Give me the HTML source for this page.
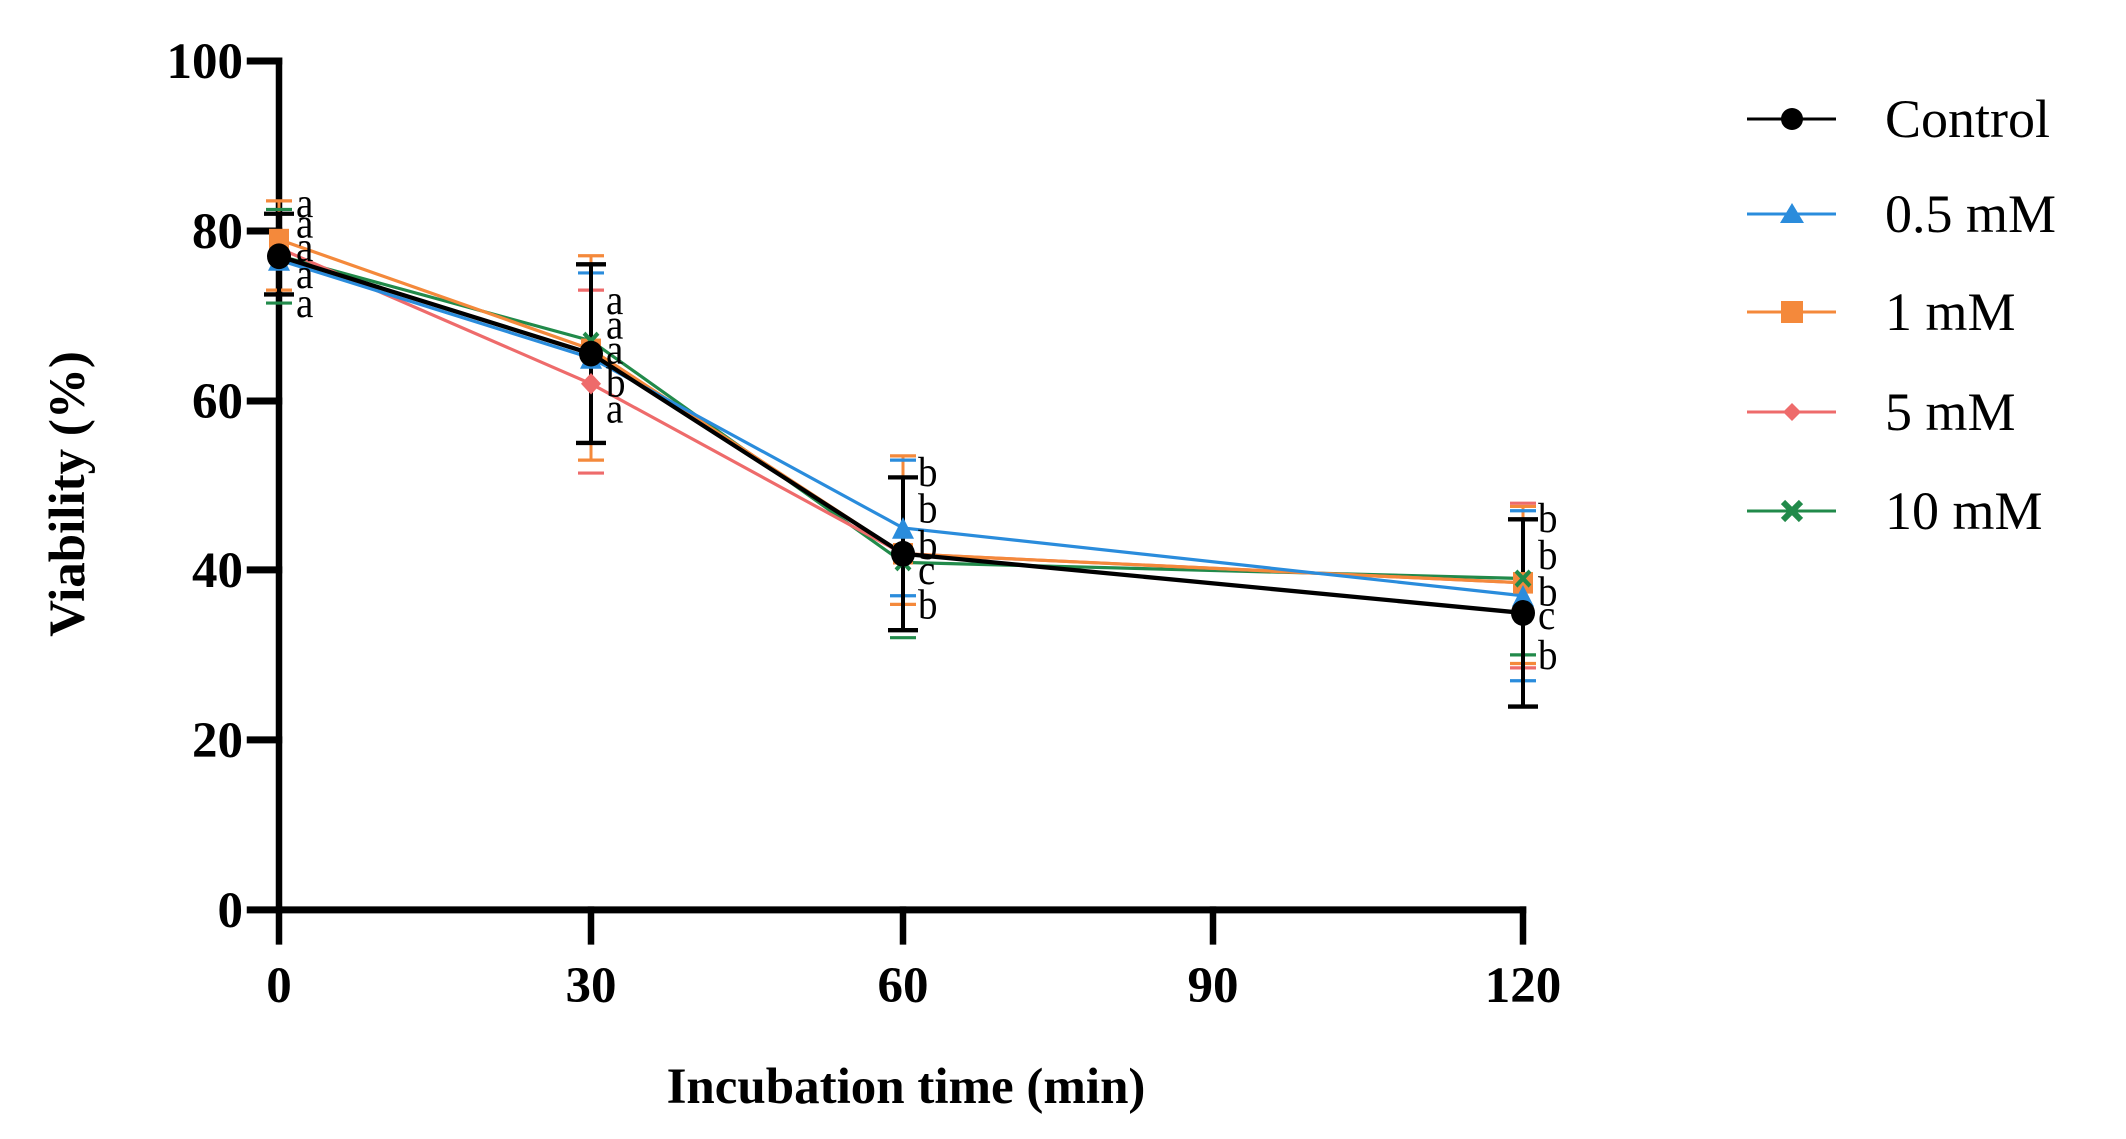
<!DOCTYPE html>
<html><head><meta charset="utf-8"><style>
html,body{margin:0;padding:0;background:#fff;}
svg{display:block;}
</style></head><body>
<svg width="2126" height="1139" viewBox="0 0 2126 1139" xmlns="http://www.w3.org/2000/svg" font-family="'Liberation Serif', serif">
<g transform="translate(0,-3.6) scale(1,1.076)">
<!-- axes -->
<g stroke="#000" stroke-width="6.5" fill="none" stroke-linecap="square">
<line x1="279" y1="60" x2="279" y2="849"/>
<line x1="279" y1="849" x2="1523" y2="849"/>
<line x1="250" y1="60" x2="279" y2="60"/>
<line x1="250" y1="218" x2="279" y2="218"/>
<line x1="250" y1="376" x2="279" y2="376"/>
<line x1="250" y1="533" x2="279" y2="533"/>
<line x1="250" y1="691" x2="279" y2="691"/>
<line x1="250" y1="849" x2="279" y2="849"/>
<line x1="279" y1="849" x2="279" y2="878"/>
<line x1="591" y1="849" x2="591" y2="878"/>
<line x1="903" y1="849" x2="903" y2="878"/>
<line x1="1213" y1="849" x2="1213" y2="878"/>
<line x1="1523" y1="849" x2="1523" y2="878"/>
</g>

<!-- error bars -->
<g stroke-width="3" fill="none">
<g stroke="#f4893b">
<line x1="279" y1="190" x2="279" y2="273"/><line x1="266" y1="190" x2="292" y2="190"/><line x1="266" y1="273" x2="292" y2="273"/>
<line x1="591" y1="241" x2="591" y2="431"/><line x1="578" y1="241" x2="604" y2="241"/><line x1="578" y1="431" x2="604" y2="431"/>
<line x1="903" y1="427" x2="903" y2="565"/><line x1="890" y1="427" x2="916" y2="427"/><line x1="890" y1="565" x2="916" y2="565"/>
<line x1="1523" y1="474" x2="1523" y2="620"/><line x1="1510" y1="474" x2="1536" y2="474"/><line x1="1510" y1="620" x2="1536" y2="620"/>
</g>
<g stroke="#ee6b6b">
<line x1="578" y1="273" x2="604" y2="273"/><line x1="578" y1="443" x2="604" y2="443"/>
<line x1="890" y1="447" x2="916" y2="447"/><line x1="890" y1="589" x2="916" y2="589"/>
<line x1="1510" y1="471" x2="1536" y2="471"/><line x1="1510" y1="624" x2="1536" y2="624"/>
</g>
<g stroke="#2a8cdc">
<line x1="578" y1="257" x2="604" y2="257"/>
<line x1="890" y1="431" x2="916" y2="431"/><line x1="890" y1="557" x2="916" y2="557"/>
<line x1="1510" y1="478" x2="1536" y2="478"/><line x1="1510" y1="636" x2="1536" y2="636"/>
</g>
<g stroke="#218a4a">
<line x1="266" y1="198" x2="292" y2="198"/><line x1="266" y1="285" x2="292" y2="285"/>
<line x1="890" y1="596" x2="916" y2="596"/>
<line x1="1510" y1="612" x2="1536" y2="612"/>
</g>
<g stroke="#000" stroke-width="4">
<line x1="279" y1="202" x2="279" y2="277"/><line x1="264" y1="202" x2="294" y2="202"/><line x1="264" y1="277" x2="294" y2="277"/>
<line x1="591" y1="249" x2="591" y2="415"/><line x1="576" y1="249" x2="606" y2="249"/><line x1="576" y1="415" x2="606" y2="415"/>
<line x1="903" y1="447" x2="903" y2="589"/><line x1="888" y1="447" x2="918" y2="447"/><line x1="888" y1="589" x2="918" y2="589"/>
<line x1="1523" y1="486" x2="1523" y2="660"/><line x1="1508" y1="486" x2="1538" y2="486"/><line x1="1508" y1="660" x2="1538" y2="660"/>
</g>
</g>

<!-- series lines -->
<g fill="none" stroke-width="3">
<polyline stroke="#218a4a" points="279,241 591,320 903,526 1523,541"/>
<polyline stroke="#ee6b6b" points="279,234 591,360 903,518 1523,545"/>
<polyline stroke="#f4893b" points="279,226 591,328 903,518 1523,545"/>
<polyline stroke="#2a8cdc" points="279,245 591,336 903,494 1523,557"/>
<polyline stroke="#000" stroke-width="4" points="279,241.5 591,332 903,518 1523,573"/>
</g>
<!-- markers -->
<g>
<rect x="269" y="216" width="20" height="20" fill="#f4893b"/>
<rect x="581" y="318" width="20" height="20" fill="#f4893b"/>
<rect x="893" y="508" width="20" height="20" fill="#f4893b"/>
<rect x="1513" y="535" width="20" height="20" fill="#f4893b"/>
<polygon points="279,235 290,255 268,255" fill="#2a8cdc"/>
<polygon points="591,326 602,346 580,346" fill="#2a8cdc"/>
<polygon points="903,484 914,504 892,504" fill="#2a8cdc"/>
<polygon points="1523,547 1534,567 1512,567" fill="#2a8cdc"/>
<polygon points="591,350 601,360 591,370 581,360" fill="#ee6b6b"/>
<g stroke="#218a4a" stroke-width="4">
<path d="M584,313 l14,14 M598,313 l-14,14"/>
<path d="M896,519 l14,14 M910,519 l-14,14"/>
<path d="M1516,534 l14,14 M1530,534 l-14,14"/>
</g>
<circle cx="279" cy="241.5" r="12" fill="#000"/>
<circle cx="591" cy="332" r="12" fill="#000"/>
<circle cx="903" cy="518" r="12" fill="#000"/>
<circle cx="1523" cy="573" r="12" fill="#000"/>
</g>

<!-- letters -->
<g font-size="39" fill="#000">
<text x="296" y="205">a</text><text x="296" y="224">a</text><text x="296" y="246">a</text><text x="296" y="271">a</text><text x="296" y="298">a</text>
<text x="606" y="295">a</text><text x="606" y="318">a</text><text x="606" y="341">a</text><text x="606" y="372">b</text><text x="606" y="396">a</text>
<text x="918" y="455">b</text><text x="918" y="489">b</text><text x="918" y="523">b</text><text x="918" y="546">c</text><text x="918" y="578">b</text>
<text x="1538" y="498">b</text><text x="1538" y="532">b</text><text x="1538" y="566">b</text><text x="1538" y="588">c</text><text x="1538" y="625">b</text>
</g>
</g>

<g font-size="51" font-weight="bold" text-anchor="end">
<text x="243" y="78">100</text>
<text x="243" y="248">80</text>
<text x="243" y="418">60</text>
<text x="243" y="587">40</text>
<text x="243" y="757">20</text>
<text x="243" y="927">0</text>
</g>
<g font-size="51" font-weight="bold" text-anchor="middle">
<text x="279" y="1002">0</text>
<text x="591" y="1002">30</text>
<text x="903" y="1002">60</text>
<text x="1213" y="1002">90</text>
<text x="1523" y="1002">120</text>
<text x="906" y="1103">Incubation time (min)</text>
<text transform="translate(84,494) rotate(-90)">Viability (%)</text>
</g>

<!-- legend -->
<g stroke-width="3">
<line x1="1747" y1="119" x2="1836" y2="119" stroke="#000"/>
<circle cx="1792" cy="119" r="11" fill="#000"/>
<line x1="1747" y1="214" x2="1836" y2="214" stroke="#2a8cdc"/>
<polygon points="1792,203 1804,223 1780,223" fill="#2a8cdc"/>
<line x1="1747" y1="312" x2="1836" y2="312" stroke="#f4893b"/>
<rect x="1781" y="301" width="22" height="22" fill="#f4893b"/>
<line x1="1747" y1="412" x2="1836" y2="412" stroke="#ee6b6b"/>
<polygon points="1792,403 1801,412 1792,421 1783,412" fill="#ee6b6b"/>
<line x1="1747" y1="511" x2="1836" y2="511" stroke="#218a4a"/>
<path d="M1783,502 l18,18 M1801,502 l-18,18" stroke="#218a4a" stroke-width="6"/>
</g>
<g font-size="54" fill="#000">
<text x="1885" y="137">Control</text>
<text x="1885" y="232">0.5 mM</text>
<text x="1885" y="330">1 mM</text>
<text x="1885" y="430">5 mM</text>
<text x="1885" y="529">10 mM</text>
</g>
</svg>
</body></html>
